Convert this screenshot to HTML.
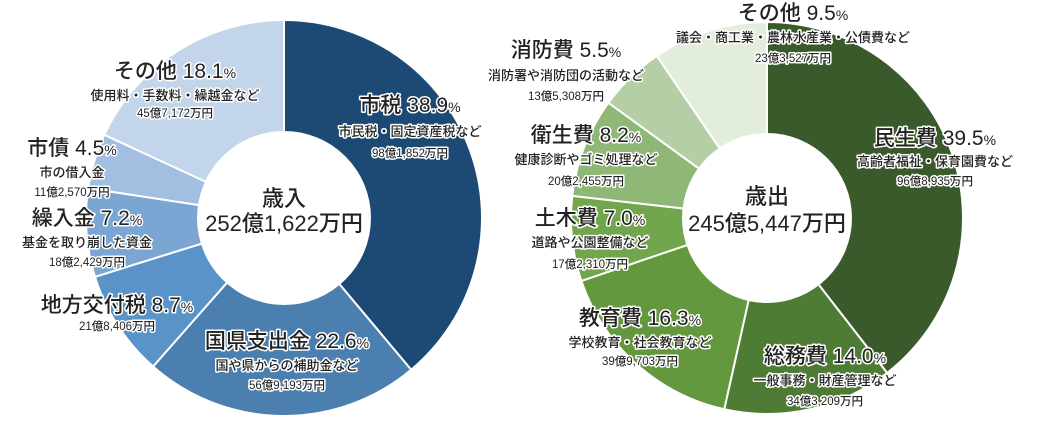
<!DOCTYPE html>
<html><head><meta charset="utf-8"><style>
html,body{margin:0;padding:0;background:#fff;}
svg{display:block;font-family:"Liberation Sans","Noto Sans CJK JP",sans-serif;}
text{text-anchor:middle;fill:#222;stroke:#fff;stroke-width:3px;paint-order:stroke;stroke-linejoin:round;}
.t{font-size:21px;font-weight:500;}
.d{font-size:13px;font-weight:500;}
.a{font-size:11.5px;font-weight:500;}
.c{font-size:22px;stroke:none;font-weight:500;}
.p{font-size:14px;}
</style></head><body>
<svg id="s" width="1053" height="423" viewBox="0 0 1053 423">
<g id="pies"></g>
<circle cx="284" cy="218" r="87" fill="#fff"/>
<circle cx="767" cy="218" r="85" fill="#fff"/>

<text class="t" x="175" y="78">その他 18.1<tspan class="p">%</tspan></text>
<text class="d" x="175" y="100">使用料・手数料・繰越金など</text>
<text class="a" x="175" y="117">45億7,172万円</text>
<text class="t" x="410" y="112">市税 38.9<tspan class="p">%</tspan></text>
<text class="d" x="410" y="136">市民税・固定資産税など</text>
<text class="a" x="410" y="157">98億1,852万円</text>
<text class="t" x="72" y="155">市債 4.5<tspan class="p">%</tspan></text>
<text class="d" x="72" y="177">市の借入金</text>
<text class="a" x="72" y="196">11億2,570万円</text>
<text class="t" x="87" y="225">繰入金 7.2<tspan class="p">%</tspan></text>
<text class="d" x="87" y="247">基金を取り崩した資金</text>
<text class="a" x="87" y="266">18億2,429万円</text>
<text class="t" x="117" y="312">地方交付税 8.7<tspan class="p">%</tspan></text>
<text class="a" x="117" y="330">21億8,406万円</text>
<text class="t" x="287" y="348">国県支出金 22.6<tspan class="p">%</tspan></text>
<text class="d" x="287" y="370">国や県からの補助金など</text>
<text class="a" x="287" y="389">56億9,193万円</text>
<text class="c" x="284" y="206">歳入</text>
<text class="c" x="284" y="231">252億1,622万円</text>

<text class="t" x="793" y="20">その他 9.5<tspan class="p">%</tspan></text>
<text class="d" x="793" y="42">議会・商工業・農林水産業・公債費など</text>
<text class="a" x="793" y="62">23億3,527万円</text>
<text class="t" x="566" y="57">消防費 5.5<tspan class="p">%</tspan></text>
<text class="d" x="566" y="80">消防署や消防団の活動など</text>
<text class="a" x="566" y="100">13億5,308万円</text>
<text class="t" x="586" y="142">衛生費 8.2<tspan class="p">%</tspan></text>
<text class="d" x="586" y="164">健康診断やゴミ処理など</text>
<text class="a" x="586" y="185">20億2,455万円</text>
<text class="t" x="590" y="225">土木費 7.0<tspan class="p">%</tspan></text>
<text class="d" x="590" y="247">道路や公園整備など</text>
<text class="a" x="590" y="268">17億2,310万円</text>
<text class="t" x="640" y="325">教育費 16.3<tspan class="p">%</tspan></text>
<text class="d" x="640" y="347">学校教育・社会教育など</text>
<text class="a" x="640" y="365">39億9,703万円</text>
<text class="t" x="935" y="145">民生費 39.5<tspan class="p">%</tspan></text>
<text class="d" x="935" y="166">高齢者福祉・保育園費など</text>
<text class="a" x="935" y="185">96億8,935万円</text>
<text class="t" x="825" y="363">総務費 14.0<tspan class="p">%</tspan></text>
<text class="d" x="825" y="385">一般事務・財産管理など</text>
<text class="a" x="825" y="405">34億3,209万円</text>
<text class="c" x="767" y="204">歳出</text>
<text class="c" x="767" y="231">245億5,447万円</text>
</svg>
<script>
function pie(cx,cy,R,vals,cols){
  var g=document.getElementById('pies'),a=0,s='';
  for(var i=0;i<vals.length;i++){
    var a1=a+vals[i]/100*2*Math.PI;
    var x0=cx+R*Math.sin(a),y0=cy-R*Math.cos(a),x1=cx+R*Math.sin(a1),y1=cy-R*Math.cos(a1);
    var big=(a1-a)>Math.PI?1:0;
    s+='<path d="M'+cx+' '+cy+'L'+x0+' '+y0+'A'+R+' '+R+' 0 '+big+' 1 '+x1+' '+y1+'Z" fill="'+cols[i]+'" stroke="#fff" stroke-width="2"/>';
    a=a1;
  }
  g.innerHTML+=s;
}
pie(284,218,198,[38.9,22.6,8.7,7.2,4.5,18.1],['#1c4a74','#4a7fb0','#5a93c8','#7ba6d3','#a2bee0','#c3d5ea']);
pie(767,218,196,[39.5,14.0,16.3,7.0,8.2,5.5,9.5],['#3b5a2b','#4e7c34','#64983f','#72a64c','#8fb877','#b4cfa6','#e3eddc']);
</script>
</body></html>
